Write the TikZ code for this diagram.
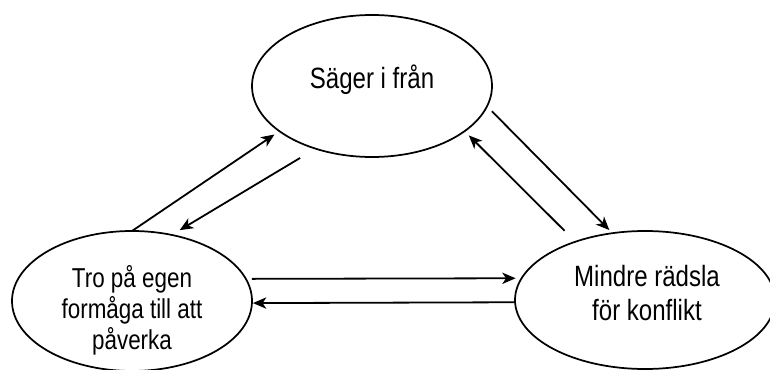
\documentclass[tikz,border=0pt]{standalone}
\usepackage{fontspec}
\setmainfont{Liberation Sans}[FakeStretch=0.82]
\usetikzlibrary{shapes.geometric, arrows.meta}

\begin{document}
\begin{tikzpicture}[x=0.75pt, y=-0.75pt,
	Bubble/.style={ellipse, draw, line width=1.3pt, outer sep=0pt, inner sep=0pt},
	BubbleText/.style={align=center, inner sep=0pt},
	Link/.style={line width=1.35pt, -{Stealth[length=10pt, width=8.5pt, inset=2.8pt]}}]

	\useasboundingbox (0,0) rectangle (770,370);

	\node[Bubble, minimum width=180pt, minimum height=106.5pt] (Sager) at (372,86) {};
	\node[Bubble, minimum width=180pt, minimum height=105pt] (Tro) at (132,301) {};
	\node[Bubble, minimum width=195pt, minimum height=103.5pt] (Mindre) at (645,300) {};

	\node[BubbleText, font=\fontsize{22}{25}\selectfont, yshift=5pt] (SagerText) at (Sager) {Säger i från};
	\node[BubbleText, font=\fontsize{20.5}{23.3}\selectfont, yshift=-7pt] (TroText) at (Tro) {Tro på egen\\formåga till att\\påverka};
	\node[BubbleText, font=\fontsize{22}{25}\selectfont, xshift=1.5pt, yshift=5.25pt] (MindreText) at (Mindre) {Mindre rädsla\\för konflikt};

	\draw[Link, shorten >=4.5pt] (Tro.90) -- (Sager.206);
	\draw[Link, shorten <=13.5pt, shorten >=7pt] (Sager.228) -- (Tro.59);

	\draw[Link, shorten <=5.25pt, shorten >=3.3pt] (Sager.350) -- (Mindre.116);
	\draw[Link, shorten <=11.6pt, shorten >=4.5pt] (Mindre.140) -- (Sager.334);

	\draw[Link, shorten <=4.5pt, shorten >=4.5pt] (Tro.11) -- (Mindre.170);
	\draw[Link, shorten >=0.75pt] (Mindre.181) -- (Tro.359);
\end{tikzpicture}
\end{document}
